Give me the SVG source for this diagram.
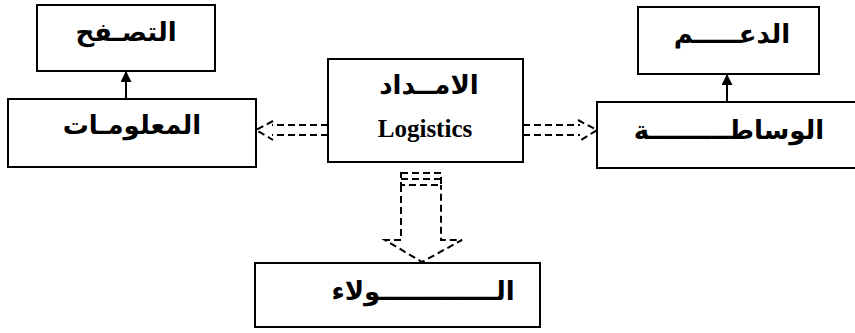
<svg xmlns="http://www.w3.org/2000/svg" width="855" height="333" viewBox="0 0 855 333">
  <style>
    .box { fill: #ffffff; stroke: #000000; stroke-width: 2; }
    .ar { font-family: "DejaVu Sans", sans-serif; font-weight: bold; font-size: 26px; fill: #000000; text-anchor: middle; direction: rtl; }
    .en { font-family: "Liberation Serif", serif; font-weight: bold; font-size: 25px; fill: #000000; text-anchor: middle; }
    .solid { stroke: #000000; stroke-width: 2; fill: none; }
    .dash { stroke: #000000; stroke-width: 2; fill: none; stroke-dasharray: 7 4; }
  </style>
  <defs>
    <marker id="tri" viewBox="0 0 10 10" refX="9" refY="5" markerWidth="5.5" markerHeight="5.5" orient="auto">
      <path d="M0,0 L10,5 L0,10 z" fill="#000000"/>
    </marker>
  </defs>
  <rect width="855" height="333" fill="#ffffff"/>

  <g id="browsing">
    <rect class="box" x="37" y="5" width="178" height="66"/>
    <text class="ar" x="126" y="41">التصـفح</text>
  </g>
  <g id="information">
    <rect class="box" x="8" y="99" width="248" height="68"/>
    <text class="ar" x="132" y="134">المعلومـات</text>
  </g>
  <g id="logistics">
    <rect class="box" x="328" y="59" width="195" height="103"/>
    <text class="ar" x="429" y="94">الامــداد</text>
    <text class="en" x="425" y="137">Logistics</text>
  </g>
  <g id="support">
    <rect class="box" x="638" y="7" width="181" height="67"/>
    <text class="ar" x="732" y="43">الدعـــــم</text>
  </g>
  <g id="mediation">
    <rect class="box" x="597" y="102" width="270" height="66"/>
    <text class="ar" x="729" y="139">الوساطـــــــــة</text>
  </g>
  <g id="loyalty">
    <rect class="box" x="255" y="263" width="285" height="64"/>
    <text class="ar" x="423" y="300">الـــــــــــــولاء</text>
  </g>

  <g id="connectors">
    <!-- solid arrows up to the top boxes -->
    <line class="solid" x1="126" y1="99" x2="126" y2="72" marker-end="url(#tri)"/>
    <line class="solid" x1="727" y1="102" x2="727" y2="75" marker-end="url(#tri)"/>
    <!-- dashed block arrow to the left -->
    <path class="dash" d="M328,125 L272,125 M328,135 L272,135 M273,121 L256,130 L273,140"/>
    <!-- dashed block arrow to the right -->
    <path class="dash" d="M523,125 L580,125 M523,135 L580,135 M578,120 L597,130 L578,142"/>
    <!-- dashed block arrow downwards -->
    <rect class="dash" x="401" y="173" width="40" height="12" stroke-dasharray="5 2"/>
    <line class="dash" x1="401" y1="179" x2="441" y2="179" stroke-dasharray="5 2"/>
    <path class="dash" d="M401,185 L401,240 L385,240 L422,262 L462,240 L441,240 L441,185"/>
  </g>
</svg>
